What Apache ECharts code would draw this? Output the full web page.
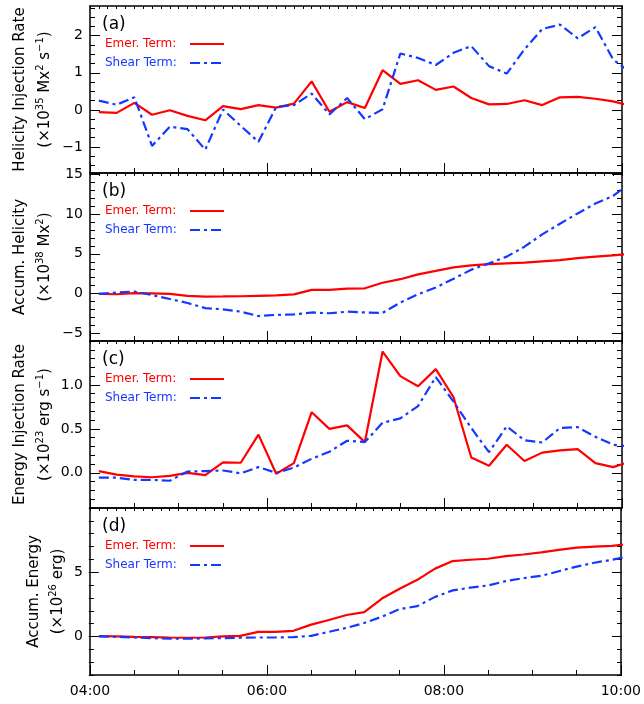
<!DOCTYPE html>
<html>
<head>
<meta charset="utf-8">
<script src="https://cdn.jsdelivr.net/npm/echarts@6/dist/echarts.min.js"></script>
<style>
  html, body { margin: 0; padding: 0; background: #fff; }
  #chart { width: 644px; height: 704px; }
</style>
</head>
<body>
<div id="chart"></div>
<script>
// sample times (every 12 min)
const timeLabels = ['04:06','04:18','04:30','04:42','04:54','05:06','05:18','05:30','05:42','05:54',
  '06:06','06:18','06:30','06:42','06:54','07:06','07:18','07:30','07:42','07:54',
  '08:06','08:18','08:30','08:42','08:54','09:06','09:18','09:30','09:42','09:54','10:06'];

// (a) helicity injection rate, x10^35 Mx^2 s^-1
const helRateEmer = [-0.06,-0.08,0.19,-0.13,-0.01,-0.16,-0.28,0.10,0.02,0.13,
  0.06,0.17,0.77,-0.05,0.21,0.05,1.07,0.70,0.80,0.54,
  0.63,0.32,0.15,0.16,0.26,0.13,0.34,0.35,0.30,0.23,0.11];
const helRateShear = [0.25,0.14,0.34,-0.97,-0.45,-0.52,-1.07,0.01,-0.43,-0.86,
  0.08,0.13,0.44,-0.12,0.32,-0.25,0.02,1.52,1.40,1.21,
  1.54,1.72,1.18,0.98,1.63,2.18,2.30,1.93,2.23,1.36,1.00];

// (b) accumulated helicity, x10^38 Mx^2
const helAccEmer = [-0.05,-0.1,0.05,0.0,-0.05,-0.3,-0.4,-0.38,-0.35,-0.3,
  -0.25,-0.12,0.45,0.45,0.6,0.65,1.35,1.8,2.4,2.85,
  3.3,3.55,3.7,3.8,3.9,4.05,4.2,4.45,4.65,4.8,5.0];
const helAccShear = [-0.05,0.1,0.25,-0.2,-0.7,-1.2,-1.85,-2.0,-2.3,-2.85,
  -2.7,-2.65,-2.4,-2.5,-2.3,-2.4,-2.45,-1.15,-0.1,0.75,
  1.85,3.0,3.8,4.65,5.9,7.45,8.8,10.1,11.35,12.3,14.0];

// (c) energy injection rate, x10^23 erg s^-1
const enRateEmer = [0.02,-0.02,-0.04,-0.05,-0.035,0.0,-0.025,0.12,0.115,0.435,
  -0.01,0.11,0.69,0.50,0.54,0.35,1.38,1.10,0.985,1.18,
  0.86,0.175,0.08,0.32,0.135,0.23,0.255,0.27,0.11,0.065,0.13];
const enRateShear = [-0.055,-0.055,-0.08,-0.08,-0.09,0.015,0.02,0.027,-0.005,0.065,
  0.0,0.06,0.16,0.24,0.365,0.35,0.57,0.62,0.76,1.09,
  0.81,0.51,0.235,0.53,0.37,0.345,0.51,0.52,0.41,0.32,0.30];

// (d) accumulated energy, x10^26 erg
const enAccEmer = [0.03,0.0,-0.03,-0.05,-0.08,-0.1,-0.08,0.0,0.05,0.36,
  0.36,0.44,0.92,1.28,1.67,1.9,2.95,3.72,4.41,5.28,
  5.87,5.97,6.05,6.26,6.38,6.54,6.74,6.92,7.0,7.05,7.2];
const enAccShear = [0.0,-0.03,-0.08,-0.13,-0.18,-0.18,-0.15,-0.13,-0.1,-0.08,
  -0.08,-0.05,0.05,0.36,0.67,1.05,1.54,2.13,2.36,3.08,
  3.59,3.8,3.97,4.31,4.54,4.72,5.08,5.44,5.74,5.97,6.25];

// axis ticks
const xTickLabels = ['04:00','06:00','08:00','10:00'];
const yMajorA = [-1, 0, 1, 2];
const yMajorB = [-5, 0, 5, 10, 15];
const yMajorC = [0, 0.5, 1.0];
const yMajorD = [0, 5];

function toMinutes(s) {
  const p = s.split(':').map(Number);
  return (p[0] - 4) * 60 + p[1];
}
function steps(a, b, st) {
  const out = [];
  for (let v = a; v <= b + 1e-9; v += st) out.push(Math.round(v * 1000) / 1000);
  return out;
}

const RED = '#ff0000';
const BLUE = '#1438ff';
const DASHDOT = [10, 4, 3, 4];
const FONT = 'DejaVu Sans';

const panels = [
  { tag: '(a)', title: 'Helicity Injection Rate', unit: '(×10{sup|35} Mx{sup|2} s{sup|−1})',
    min: -1.7, max: 2.8, major: yMajorA, minor: steps(-1.5, 2.75, 0.25), dec: 0,
    emer: helRateEmer, shear: helRateShear, t1: 20, t2: 45 },
  { tag: '(b)', title: 'Accum. Helicity', unit: '(×10{sup|38} Mx{sup|2})',
    min: -6, max: 15.2, major: yMajorB, minor: steps(-6, 15, 1), dec: 0,
    emer: helAccEmer, shear: helAccShear, t1: 20, t2: 45 },
  { tag: '(c)', title: 'Energy Injection Rate', unit: '(×10{sup|23} erg s{sup|−1})',
    min: -0.4, max: 1.5, major: yMajorC, minor: steps(-0.4, 1.5, 0.1), dec: 1,
    emer: enRateEmer, shear: enRateShear, t1: 20, t2: 45 },
  { tag: '(d)', title: 'Accum. Energy', unit: '(×10{sup|26} erg)',
    min: -3, max: 10, major: yMajorD, minor: steps(-3, 10, 1), dec: 0,
    emer: enAccEmer, shear: enAccShear, t1: 34, t2: 58 }
];

const gridTops = [6, 173, 341, 508];
const gridHeights = [167, 168, 167, 167];
const LEFT = 90, WIDTH = 532;

const xMajor = xTickLabels.map(toMinutes);
const xMinor = steps(0, 360, 30);
const xFine = steps(0, 360, 6);

const frameLine = { show: true, onZero: false, lineStyle: { color: '#000', width: 1.5 } };
const noLine = { show: false, onZero: false };
const tickStyle = { color: '#000', width: 1 };

// tick-only axis: placed on the opposite side and pulled back over the frame
// with a negative offset, so its outward ticks point into the plot
function tickAxis(kind, i, pos, offset, len, values, min, max) {
  return {
    type: 'value', gridIndex: i, min: min, max: max, position: pos, offset: offset,
    axisLine: noLine,
    axisTick: { show: true, inside: false, length: len, customValues: values, lineStyle: tickStyle },
    axisLabel: { show: false }, splitLine: { show: false }
  };
}

const grid = [], xAxis = [], yAxis = [], series = [], graphic = [];

panels.forEach(function (p, i) {
  const top = gridTops[i];
  const h = gridHeights[i];
  grid.push({ left: LEFT, top: top, width: WIDTH, height: h });

  // x axes: 0 labels/frame bottom, 1 frame top, 2-3 bottom ticks, 4 top ticks
  xAxis.push({
    type: 'value', gridIndex: i, min: 0, max: 360, position: 'bottom',
    axisLine: frameLine, axisTick: { show: false },
    axisLabel: {
      show: i === 3, customValues: xMajor, margin: 9, color: '#000', fontSize: 14, fontFamily: FONT,
      formatter: function (v) { return xTickLabels[xMajor.indexOf(v)] || ''; }
    },
    splitLine: { show: false }
  });
  xAxis.push({
    type: 'value', gridIndex: i, min: 0, max: 360, position: 'top',
    axisLine: frameLine, axisTick: { show: false }, axisLabel: { show: false }, splitLine: { show: false }
  });
  xAxis.push(tickAxis('x', i, 'top', -h, 10, xMajor, 0, 360));
  xAxis.push(tickAxis('x', i, 'top', -h, 5, xMinor, 0, 360));
  xAxis.push(tickAxis('x', i, 'bottom', -h, 3, xFine, 0, 360));

  // y axes: 0 labels/frame left, 1 frame right, 2-3 left ticks, 4-5 right ticks
  yAxis.push({
    type: 'value', gridIndex: i, min: p.min, max: p.max, position: 'left',
    axisLine: frameLine, axisTick: { show: false },
    axisLabel: {
      customValues: p.major, margin: 7, color: '#000', fontSize: 14, fontFamily: FONT,
      formatter: function (v) { return v.toFixed(p.dec).replace('-', '−'); }
    },
    splitLine: { show: false }
  });
  yAxis.push({
    type: 'value', gridIndex: i, min: p.min, max: p.max, position: 'right',
    axisLine: frameLine, axisTick: { show: false }, axisLabel: { show: false }, splitLine: { show: false }
  });
  yAxis.push(tickAxis('y', i, 'right', -WIDTH, 10, p.major, p.min, p.max));
  yAxis.push(tickAxis('y', i, 'right', -WIDTH, 5, p.minor, p.min, p.max));
  yAxis.push(tickAxis('y', i, 'left', -WIDTH, 10, p.major, p.min, p.max));
  yAxis.push(tickAxis('y', i, 'left', -WIDTH, 5, p.minor, p.min, p.max));

  const mk = function (arr) {
    return timeLabels.map(function (t, k) { return [toMinutes(t), arr[k]]; });
  };
  series.push({
    name: 'Emer. Term:', type: 'line', xAxisIndex: 5 * i, yAxisIndex: 6 * i,
    data: mk(p.emer), symbol: 'none', clip: true, animation: false,
    lineStyle: { color: RED, width: 2.2 }
  });
  series.push({
    name: 'Shear Term:', type: 'line', xAxisIndex: 5 * i, yAxisIndex: 6 * i,
    data: mk(p.shear), symbol: 'none', clip: true, animation: false,
    lineStyle: { color: BLUE, width: 2.2, type: DASHDOT }
  });

  // panel tag and in-panel legend
  graphic.push({ type: 'text', x: 102, y: top + 19,
    style: { text: p.tag, fontSize: 17, fontFamily: FONT, fill: '#000', verticalAlign: 'middle' } });
  graphic.push({ type: 'text', x: 105, y: top + 38,
    style: { text: 'Emer. Term:', fontSize: 12, fontFamily: FONT, fill: RED, verticalAlign: 'middle' } });
  graphic.push({ type: 'line', shape: { x1: 190, y1: top + 38, x2: 224, y2: top + 38 },
    style: { stroke: RED, lineWidth: 2 } });
  graphic.push({ type: 'text', x: 105, y: top + 57,
    style: { text: 'Shear Term:', fontSize: 12, fontFamily: FONT, fill: BLUE, verticalAlign: 'middle' } });
  graphic.push({ type: 'line', shape: { x1: 190, y1: top + 57, x2: 224, y2: top + 57 },
    style: { stroke: BLUE, lineWidth: 2, lineDash: DASHDOT } });

  // rotated y titles
  const midY = top + h / 2;
  graphic.push({ type: 'text', x: p.t1, y: midY, rotation: Math.PI / 2,
    style: { text: p.title, fontSize: 15, fontFamily: FONT, fill: '#000', align: 'center', verticalAlign: 'middle' } });
  graphic.push({ type: 'text', x: p.t2, y: midY, rotation: Math.PI / 2,
    style: { text: p.unit, fontSize: 15, fontFamily: FONT, fill: '#000', align: 'center', verticalAlign: 'middle',
      lineHeight: 20,
      rich: { sup: { fontSize: 10, fontFamily: FONT, fill: '#000', verticalAlign: 'top', lineHeight: 20 } } } });
});

const chart = echarts.init(document.getElementById('chart'), null, { renderer: 'canvas' });
chart.setOption({
  backgroundColor: '#fff',
  animation: false,
  grid: grid,
  xAxis: xAxis,
  yAxis: yAxis,
  series: series,
  graphic: graphic
});
</script>
</body>
</html>
